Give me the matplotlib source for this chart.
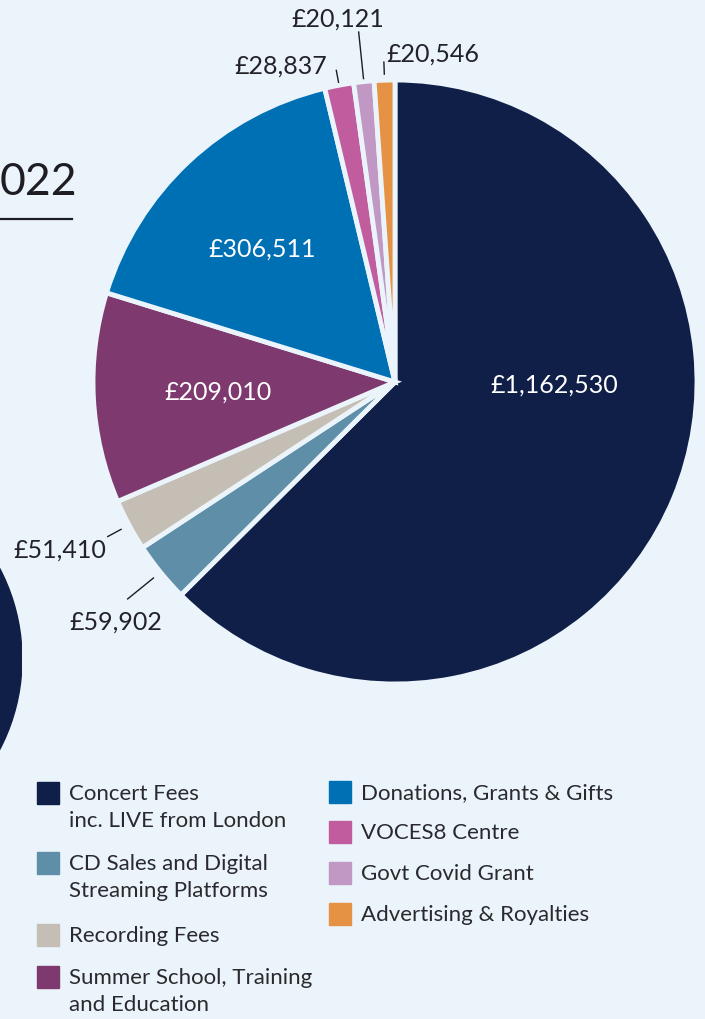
import numpy as np
import matplotlib
matplotlib.use('Agg')
import matplotlib.pyplot as plt
from matplotlib.patches import Rectangle, Circle

W, H = 705, 1020
BG = '#EBF4FB'

# Income categories, values and colours
categories = ['Concert Fees\ninc. LIVE from London',
              'CD Sales and Digital\nStreaming Platforms',
              'Recording Fees',
              'Summer School, Training\nand Education',
              'Donations, Grants & Gifts',
              'VOCES8 Centre',
              'Govt Covid Grant',
              'Advertising & Royalties']
values = [1162530, 59902, 51410, 209010, 306511, 28837, 20121, 20546]
colors = ['#0F1F48', '#5F8FA8', '#C5BEB4', '#7E3A6F',
          '#0070B5', '#C15D9E', '#C198C4', '#E69245']

plt.rcParams['font.family'] = ['Lato', 'DejaVu Sans']


def fx(px):
    return px / W


def fy(py):
    return 1 - py / H


fig = plt.figure(figsize=(W / 100, H / 100), dpi=100, facecolor=BG)

# bits of the neighbouring panel that are cut off at the left
fig.text(fx(0), fy(195), '022', fontsize=32, color='#1d1d22', ha='left', va='baseline')
fig.add_artist(plt.Line2D([fx(0), fx(72)], [fy(220), fy(220)], color='#1d1d22', lw=1.6,
                          transform=fig.transFigure))
cax = fig.add_axes([fx(-368), fy(855), 390 / W, 390 / H])
cax.add_patch(Circle((0, 0), 1, color='#0F1F48'))
cax.set_xlim(-1, 1)
cax.set_ylim(-1, 1)
cax.axis('off')

# main pie, centre (395, 383) px, radius ~302 px
ax = fig.add_axes([fx(93), fy(685), 604 / W, 604 / H])
ax.set_facecolor('none')
wedges, _ = ax.pie(values, colors=colors, startangle=90, counterclock=False, radius=1,
                   wedgeprops=dict(edgecolor=BG, linewidth=3.5))
for w in wedges:
    w.set_clip_on(False)
ax.set_xlim(-1, 1)
ax.set_ylim(-1, 1)
ax.axis('off')


def fmt(v):
    return '£{:,}'.format(v)


# labels inside the big slices
inside = {0: (0.528, -0.007), 3: (-0.585, -0.03), 4: (-0.44, 0.443)}
for i, (x, y) in inside.items():
    ax.text(x, y, fmt(values[i]), color='white', fontsize=18, ha='center', va='center')

# outside labels with leader lines: index -> (r_in, r_out, text x, text y, ha)
outside = {1: (1.03, 1.14, -0.925, -0.79, 'center'),
           2: (1.03, 1.08, -0.955, -0.553, 'right'),
           5: (1.01, 1.05, -0.225, 1.05, 'right'),
           6: (1.01, 1.165, -0.19, 1.205, 'center'),
           7: (1.02, 1.06, -0.03, 1.09, 'left')}
for i, (r1, r2, tx, ty, ha) in outside.items():
    w = wedges[i]
    ang = np.deg2rad((w.theta1 + w.theta2) / 2)
    c, s = np.cos(ang), np.sin(ang)
    ax.plot([r1 * c, r2 * c], [r1 * s, r2 * s], color='#1d1d22', lw=1, clip_on=False)
    ax.text(tx, ty, fmt(values[i]), color='#222228', fontsize=18, ha=ha, va='center')

# legend, drawn by hand in two columns
left_col = [(0, 783), (1, 853), (2, 925), (3, 967)]
right_col = [(4, 782), (5, 822), (6, 863), (7, 904)]
for col_x, items in ((37, left_col), (329, right_col)):
    for i, top in items:
        fig.patches.append(Rectangle((fx(col_x), fy(top + 22)), 22 / W, 22 / H,
                                     color=colors[i], transform=fig.transFigure))
        fig.text(fx(col_x + 32), fy(top + 1), categories[i], fontsize=16, color='#2a2a2e',
                 ha='left', va='top', linespacing=1.42)

fig.savefig('out.png', dpi=100, facecolor=BG)
